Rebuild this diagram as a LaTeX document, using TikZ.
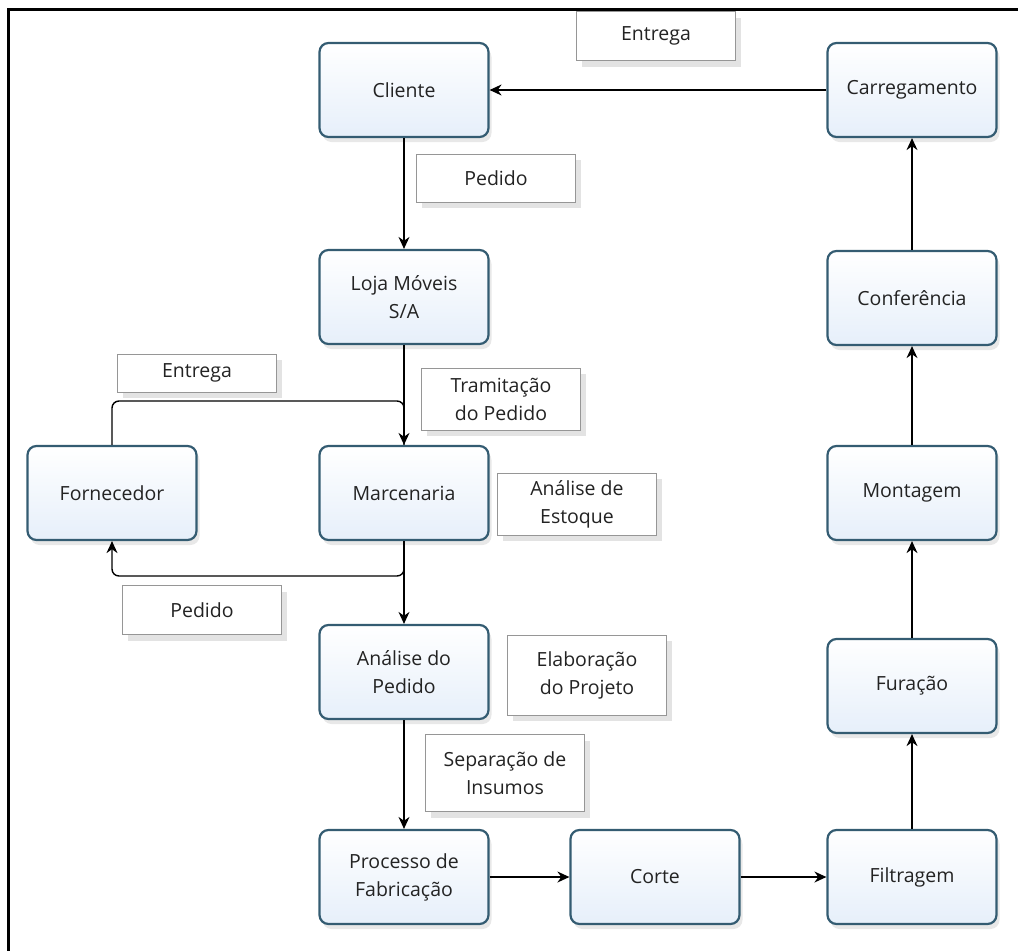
\documentclass[tikz,border=0pt]{standalone}
\usepackage{fontspec}
\setmainfont{Open Sans}
\usepackage{tikz}
\usetikzlibrary{positioning,arrows.meta,shadows}

\definecolor{boxline}{RGB}{52,92,114}
\definecolor{boxfill}{RGB}{230,239,250}
\definecolor{tagline}{RGB}{150,150,150}
\definecolor{txt}{RGB}{35,35,35}

\begin{document}
\begin{tikzpicture}[x=1pt,y=1pt,yscale=-1,xscale=1,
  step box/.style={draw=boxline, line width=2.2pt, rounded corners=9pt,
    top color=white, bottom color=boxfill, minimum width=169pt, minimum height=94pt,
    align=center, text=txt, font=\fontsize{19.5}{28}\selectfont,
    drop shadow={opacity=0.18, shadow xshift=3pt, shadow yshift=-5pt}},
  tag box/.style={draw=tagline, line width=0.8pt, fill=white, minimum width=159pt,
    align=center, text=txt, font=\fontsize{19.5}{28}\selectfont,
    drop shadow={opacity=0.22, shadow xshift=5pt, shadow yshift=-6pt}},
  flow/.style={line width=1.4pt, -{Stealth[length=12pt,width=11pt]}},
  plain/.style={line width=1.4pt}]
\useasboundingbox (0,0) rectangle (1018,951);

%Frame
\draw [line width=3pt] (8,951) -- (8,9) -- (1018,9);

%Shape: Rounded Rect -- left column
\node [step box] (fornecedor) at (112,493) {Fornecedor};
%Shape: Rounded Rect -- middle column
\node [step box] (cliente) at (404,90) {Cliente};
\node [step box] (loja) at (404,297) {Loja Móveis\\S/A};
\node [step box] (marcenaria) at (404,493) {Marcenaria};
\node [step box] (analise) at (404,672) {Análise do\\Pedido};
\node [step box] (processo) at (404,877) {Processo de\\Fabricação};
\node [step box] (corte) at (655,877) {Corte};
%Shape: Rounded Rect -- right column
\node [step box] (filtragem) at (912,877) {Filtragem};
\node [step box] (furacao) at (912,686) {Furação};
\node [step box] (montagem) at (912,493) {Montagem};
\node [step box] (conferencia) at (912,298) {Conferência};
\node [step box] (carregamento) at (912,90) {Carregamento};

%Text boxes
\node [tag box, minimum height=49pt] (t_entrega) at (656,36) {Entrega};
\node [tag box, minimum height=48pt] (t_pedido) at (496,178) {Pedido};
\node [tag box, minimum height=38pt] (t_entrega2) at (197,373) {Entrega};
\node [tag box, minimum height=62pt] (t_tramit) at (501,399) {Tramitação\\do Pedido};
\node [tag box, minimum height=62pt] (t_estoque) at (577,504) {Análise de\\Estoque};
\node [tag box, minimum height=49pt] (t_pedido2) at (202,610) {Pedido};
\node [tag box, minimum height=80pt] (t_projeto) at (587,675) {Elaboração\\do Projeto};
\node [tag box, minimum height=77pt] (t_insumos) at (505,773) {Separação de\\Insumos};

%Joints
\coordinate (jtop) at (404,401);
\coordinate (jbot) at (404,576);

%Straight Lines
\draw [flow] (carregamento) -- (cliente);
\draw [flow] (cliente) -- (loja);
\draw [flow] (loja) -- (marcenaria);
\draw [plain, rounded corners=7pt] (fornecedor.north) |- (jtop) -- (marcenaria.north);
\draw [flow] (marcenaria) -- (analise);
\draw [flow, rounded corners=7pt] (marcenaria.south) -- (jbot) -| (fornecedor.south);
\draw [flow] (analise) -- (processo);
\draw [flow] (processo) -- (corte);
\draw [flow] (corte) -- (filtragem);
\draw [flow] (filtragem) -- (furacao);
\draw [flow] (furacao) -- (montagem);
\draw [flow] (montagem) -- (conferencia);
\draw [flow] (conferencia) -- (carregamento);

\end{tikzpicture}
\end{document}
